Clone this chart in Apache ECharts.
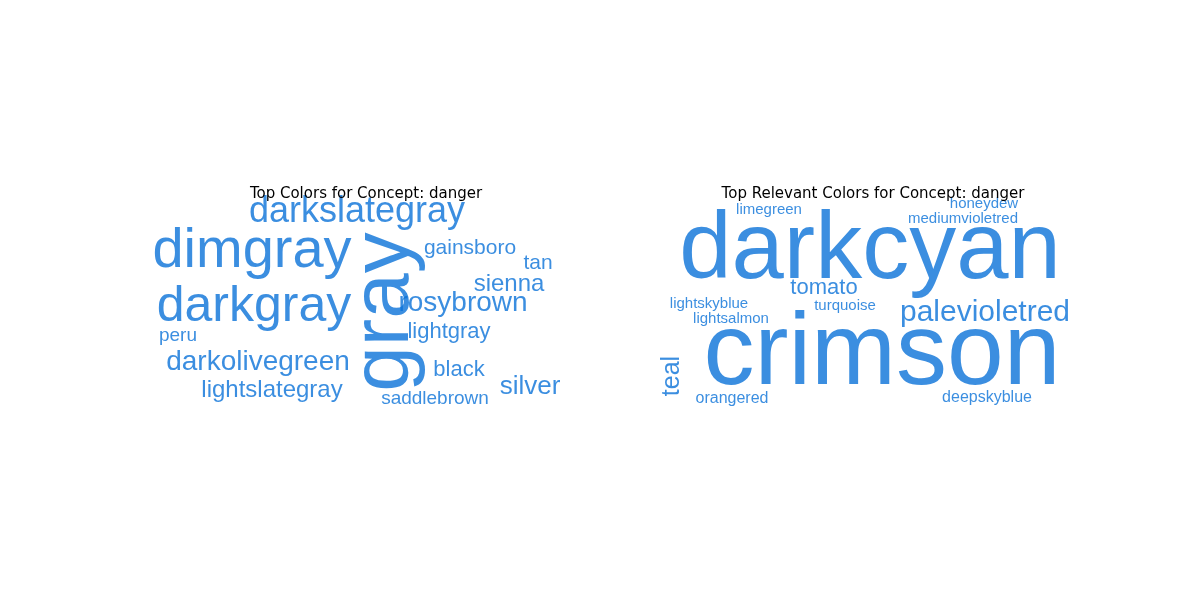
<!DOCTYPE html>
<html>
<head>
    <script src="https://cdn.jsdelivr.net/npm/echarts@6/dist/echarts.min.js"></script>
</head>
<body style="margin:0">
    <div id="chart" style="width:1200px;height:600px;"></div>
    <script>
        // word cloud layout: word, x, y (page units), font size, rotation
        const leftWords = ['darkslategray', 'dimgray', 'gray', 'gainsboro', 'tan', 'sienna', 'darkgray', 'rosybrown', 'peru', 'lightgray', 'darkolivegreen', 'black', 'silver', 'lightslategray', 'saddlebrown'];
        const leftX = [357, 252, 385, 470, 538, 509, 254, 463, 178, 449, 258, 459, 530, 272, 435];
        const leftY = [212, 252, 312, 248, 263, 284, 307, 303, 336, 332, 362, 370, 387, 390, 399];
        const leftSize = [36, 56, 82, 21, 21, 24, 50, 28, 19, 22, 28, 22, 26, 24, 19];
        const leftRot = [0, 0, 90, 0, 0, 0, 0, 0, 0, 0, 0, 0, 0, 0, 0];

        const rightWords = ['limegreen', 'honeydew', 'mediumvioletred', 'darkcyan', 'tomato', 'lightskyblue', 'turquoise', 'palevioletred', 'lightsalmon', 'crimson', 'teal', 'orangered', 'deepskyblue'];
        const rightX = [769, 984, 963, 870, 824, 709, 845, 985, 731, 882, 672, 732, 987];
        const rightY = [210, 204, 219, 252, 288, 304, 306, 313, 319, 356, 376, 399, 398];
        const rightSize = [15, 15, 15, 94, 22, 15, 15, 30, 15, 102, 25, 16, 16];
        const rightRot = [0, 0, 0, 0, 0, 0, 0, 0, 0, 0, 90, 0, 0];

        const color = '#0a72d8';

        function toData(words, xs, ys, sizes, rots) {
            return words.map((w, i) => ({
                value: [xs[i], ys[i]],
                name: w,
                label: { fontSize: sizes[i], rotate: rots[i] }
            }));
        }

        const chart = echarts.init(document.getElementById('chart'));
        chart.setOption({
            animation: false,
            title: [
                { text: 'Top Colors for Concept: danger', left: 361, top: 174, textAlign: 'center',
                  textStyle: { fontSize: 15, fontWeight: 'normal', color: '#000', fontFamily: 'DejaVu Sans' } },
                { text: 'Top Relevant Colors for Concept: danger', left: 868, top: 174, textAlign: 'center',
                  textStyle: { fontSize: 15, fontWeight: 'normal', color: '#000', fontFamily: 'DejaVu Sans' } }
            ],
            grid: { left: 0, right: 0, top: 0, bottom: 0 },
            xAxis: { type: 'value', min: 0, max: 1200, show: false },
            yAxis: { type: 'value', min: 0, max: 600, inverse: true, show: false },
            series: [
                toData(leftWords, leftX, leftY, leftSize, leftRot),
                toData(rightWords, rightX, rightY, rightSize, rightRot)
            ].map(d => ({
                type: 'scatter',
                symbolSize: 0,
                data: d,
                label: {
                    show: true,
                    position: 'inside',
                    formatter: p => p.name,
                    color: color,
                    fontFamily: 'Liberation Sans'
                }
            }))
        });
    </script>
</body>
</html>
